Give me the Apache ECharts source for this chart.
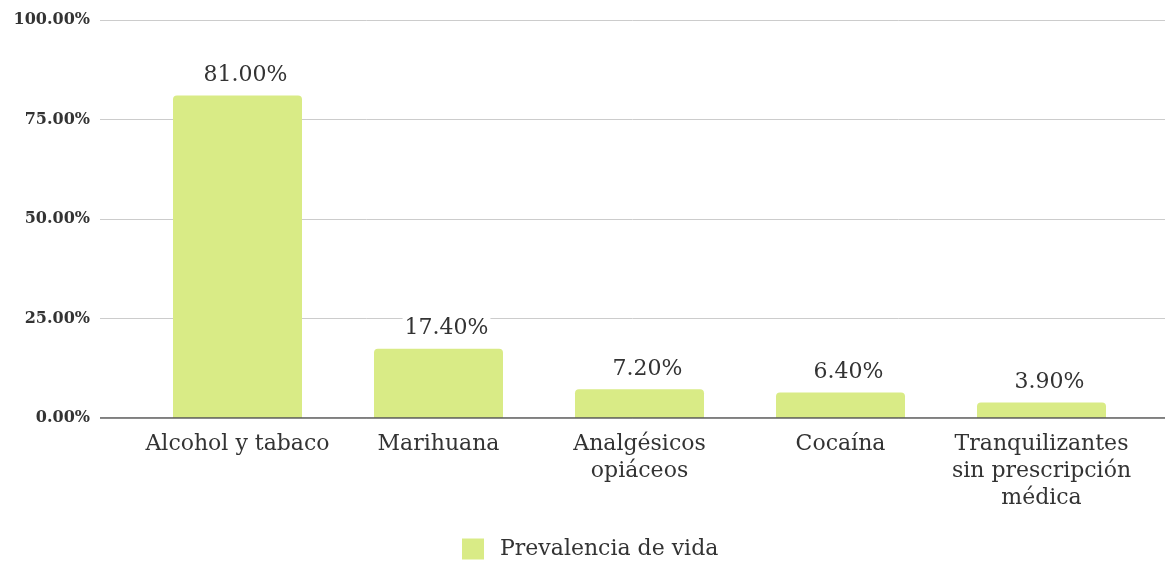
<!DOCTYPE html>
<html>
<head>
    <meta charset="UTF-8">
    <title>Prevalencia de vida</title>
    <script src="https://cdn.jsdelivr.net/npm/echarts@6/dist/echarts.min.js"></script>
</head>
<body style="margin:0;">
    <div id="main" style="width:1165px;height:561px;"></div>
    <script type="text/javascript">
        var myChart = echarts.init(document.getElementById('main'));

        // datos
        var categories = ['Alcohol y tabaco', 'Marihuana', 'Analgésicos\nopiáceos', 'Cocaína', 'Tranquilizantes\nsin prescripción\nmédica'];
        var values = [81.0, 17.4, 7.2, 6.4, 3.9];
        var yTicks = [0, 25, 50, 75, 100];
        var seriesName = 'Prevalencia de vida';

        var barColor = '#d9eb86';
        var textColor = '#333333';
        var fontFamily = 'DejaVu Serif';

        var option = {
            backgroundColor: '#ffffff',
            textStyle: { fontFamily: fontFamily },
            legend: {
                data: [seriesName],
                top: 533,
                left: 457,
                icon: 'rect',
                itemWidth: 22,
                itemHeight: 21,
                textStyle: { fontSize: 22, color: textColor, fontFamily: fontFamily, padding: [0, 0, 0, 11] }
            },
            grid: [
                // rejilla para las líneas horizontales
                { left: 100, right: 0, top: 20, bottom: 143 },
                // rejilla para las barras
                { left: 137, right: 23, top: 20, bottom: 143 }
            ],
            xAxis: [
                { type: 'value', gridIndex: 0, show: false, min: 0, max: 1 },
                {
                    type: 'category',
                    gridIndex: 1,
                    data: categories,
                    axisLine: { show: false },
                    axisTick: { show: false },
                    axisLabel: {
                        color: textColor,
                        fontSize: 22,
                        lineHeight: 27,
                        margin: 13,
                        interval: 0,
                        fontFamily: fontFamily
                    }
                }
            ],
            yAxis: [
                {
                    type: 'value',
                    gridIndex: 0,
                    min: yTicks[0],
                    max: yTicks[yTicks.length - 1],
                    interval: 25,
                    axisLine: { show: false },
                    axisTick: { show: false },
                    splitLine: { lineStyle: { color: '#cccccc', width: 1 } },
                    axisLabel: {
                        color: textColor,
                        fontSize: 16,
                        fontWeight: 'bold',
                        margin: 10,
                        fontFamily: fontFamily,
                        formatter: function (v) { return v.toFixed(2) + '%'; }
                    }
                },
                {
                    type: 'value',
                    gridIndex: 1,
                    min: yTicks[0],
                    max: yTicks[yTicks.length - 1],
                    interval: 25,
                    show: false
                }
            ],
            series: [
                {
                    name: seriesName,
                    type: 'bar',
                    xAxisIndex: 1,
                    yAxisIndex: 1,
                    data: values,
                    barWidth: 129,
                    itemStyle: { color: barColor, borderRadius: [4, 4, 0, 0] },
                    label: {
                        show: true,
                        position: 'top',
                        distance: 9,
                        offset: [8, 0],
                        fontSize: 22,
                        color: textColor,
                        fontFamily: fontFamily,
                        backgroundColor: '#ffffff',
                        padding: [0, 2],
                        formatter: function (p) { return p.value.toFixed(2) + '%'; }
                    }
                },
                {
                    // línea del eje en 0
                    type: 'line',
                    xAxisIndex: 0,
                    yAxisIndex: 0,
                    data: [[0, 0], [1, 0]],
                    symbol: 'none',
                    silent: true,
                    lineStyle: { color: '#555555', width: 1.5 },
                    z: 5
                }
            ]
        };
        myChart.setOption(option);
    </script>
</body>
</html>
